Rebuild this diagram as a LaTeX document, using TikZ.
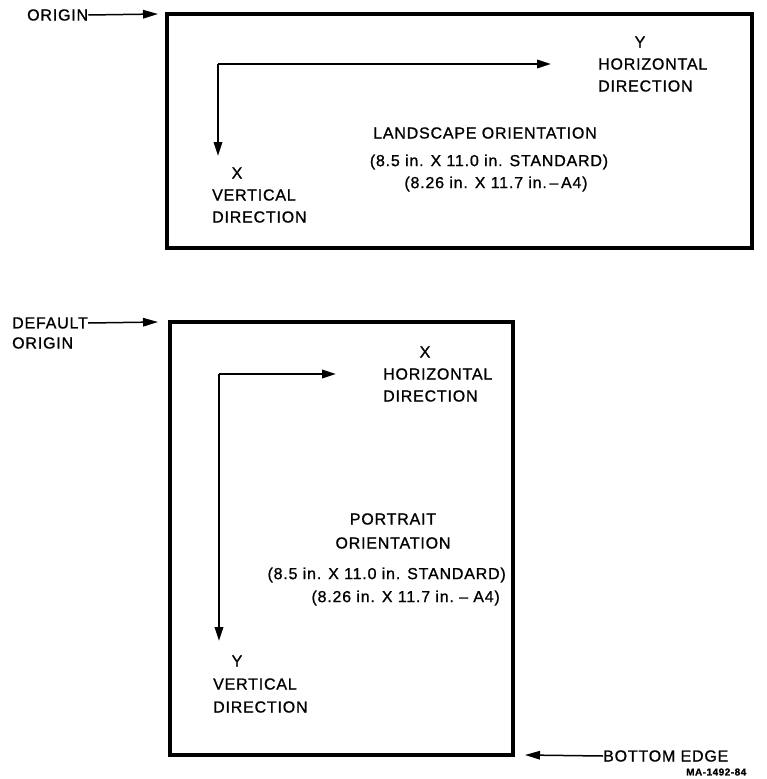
\documentclass[tikz,border=0pt]{standalone}
\usepackage{fontspec}
\setmainfont{Liberation Sans}[LetterSpace=5,FakeBold=1]
\usetikzlibrary{arrows.meta}
\begin{document}
\begin{tikzpicture}[x=1pt,y=-1pt,
  lbl/.style={inner sep=0pt,font=\fontsize{16}{19}\selectfont},
  frame/.style={line width=3.5pt},
  axis/.style={line width=2pt,-{Triangle[length=14pt,width=8.5pt]}},
  ptr/.style={line width=1.5pt,-{Triangle[length=15pt,width=8.5pt]}}]
\useasboundingbox (0,0) rectangle (766,779);
% ---------- landscape ----------
\draw[frame] (167,14) rectangle (752,248);
\node[lbl,anchor=west] (orig) at (27,15) {ORIGIN};
\coordinate (o1) at (158,14);
\draw[ptr] (orig.east) -- (o1);
\coordinate (c1) at (218,64);
\coordinate (h1) at (551,64);
\coordinate (v1) at (218,156);
\draw[axis] (c1) -- (h1);
\draw[axis] (c1) -- (v1);
\node[lbl] (y1) at (640,42) {Y};
\node[lbl,anchor=west] (hor1) at (598,64) {HORIZONTAL};
\node[lbl,anchor=west] (hdir1) at (598,86) {DIRECTION};
\node[lbl] (x1) at (237,173) {X};
\node[lbl,anchor=west] (ver1) at (212,195) {VERTICAL};
\node[lbl,anchor=west] (vdir1) at (212,217) {DIRECTION};
\node[lbl] (land) at (485,133) {LANDSCAPE ORIENTATION};
\node[lbl] (std1) at (489,162) {(8.5 in. X 11.0 in. STANDARD)};
\node[lbl] (a41) at (496,184) {(8.26 in. X 11.7 in.\,--\,A4)};
% ---------- portrait ----------
\draw[frame] (170,322) rectangle (513,755);
\node[lbl,anchor=west] (def) at (12,323) {DEFAULT};
\node[lbl,anchor=west] (orig2) at (12,343) {ORIGIN};
\coordinate (o2) at (158,322);
\draw[ptr] (def.east) -- (o2);
\coordinate (c2) at (219,374);
\coordinate (h2) at (336,374);
\coordinate (v2) at (219,641);
\draw[axis] (c2) -- (h2);
\draw[axis] (c2) -- (v2);
\node[lbl] (x2) at (425,352) {X};
\node[lbl,anchor=west] (hor2) at (383,374) {HORIZONTAL};
\node[lbl,anchor=west] (hdir2) at (383,396) {DIRECTION};
\node[lbl] (port) at (393,519) {PORTRAIT};
\node[lbl] (ori2) at (393,543) {ORIENTATION};
\node[lbl,anchor=east] (std2) at (506,575) {(8.5 in. X 11.0 in. STANDARD)};
\node[lbl,anchor=east] (a42) at (500,598) {(8.26 in. X 11.7 in.\ --\ A4)};
\node[lbl] (y2) at (237,661) {Y};
\node[lbl,anchor=west] (ver2) at (213,684) {VERTICAL};
\node[lbl,anchor=west] (vdir2) at (213,707) {DIRECTION};
\node[lbl,anchor=west] (bot) at (603,756) {BOTTOM EDGE};
\coordinate (b2) at (525,755);
\draw[ptr] (bot.west) -- (b2);
\node[inner sep=0pt,anchor=west,font=\fontsize{10}{11}\bfseries] (ma) at (686,772) {MA-1492-84};
\end{tikzpicture}
\end{document}
